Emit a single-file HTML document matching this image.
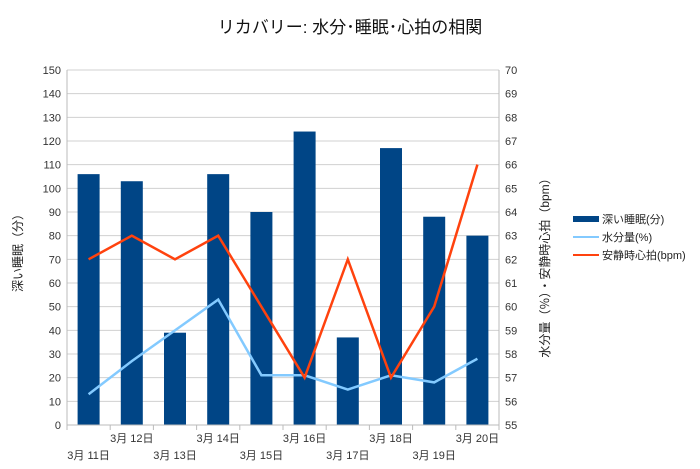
<!DOCTYPE html>
<html><head><meta charset="utf-8"><style>
body{margin:0;background:#fff;}
svg{display:block;font-family:"Liberation Sans","Noto Sans CJK JP",sans-serif;}
</style></head><body>
<svg id="chart" width="700" height="469" viewBox="0 0 700 469">
<text x="350" y="33" text-anchor="middle" font-size="17" fill="#111">リカバリー: 水分･睡眠･心拍の相関</text>
<g id="grid"></g><g id="bars"></g><g id="lines"></g><g id="axes"></g>
<text transform="translate(22,250) rotate(-90)" text-anchor="middle" font-size="12" fill="#222">深い睡眠（分）</text>
<text transform="translate(549,265) rotate(-90)" text-anchor="middle" font-size="12" fill="#222">水分量（％）・安静時心拍（bpm）</text>
<g>
<rect x="573" y="216" width="26" height="6" fill="#004586"/>
<text x="602" y="223" font-size="11" fill="#222">深い睡眠(分)</text>
<line x1="573" x2="599" y1="237" y2="237" stroke="#83caff" stroke-width="2"/>
<text x="602" y="241" font-size="11" fill="#222">水分量(%)</text>
<line x1="573" x2="599" y1="255" y2="255" stroke="#ff420e" stroke-width="2"/>
<text x="602" y="259" font-size="11" fill="#222">安静時心拍(bpm)</text>
</g>
</svg>
<script>
const categories=["3月 11日","3月 12日","3月 13日","3月 14日","3月 15日","3月 16日","3月 17日","3月 18日","3月 19日","3月 20日"];
const sleep=[106,103,39,106,90,124,37,117,88,80];
const water=[13,27,40,53,21,21,15,21,18,28];
const heart=[62,63,62,63,60,57,62,57,60,66];
const leftTicks=[0,10,20,30,40,50,60,70,80,90,100,110,120,130,140,150];
const rightTicks=[55,56,57,58,59,60,61,62,63,64,65,66,67,68,69,70];
const NS="http://www.w3.org/2000/svg";
const L=67,R=499,T=70,B=425;
const bw=(R-L)/categories.length;
const xc=i=>L+bw*(i+0.5);
const yl=v=>B-(v-0)/150*(B-T);
const yr=v=>B-(v-55)/15*(B-T);
function mk(tag,attrs,parent){const e=document.createElementNS(NS,tag);for(const k in attrs)e.setAttribute(k,attrs[k]);document.getElementById(parent).appendChild(e);return e;}
leftTicks.forEach((v,i)=>{
 const g=mk('line',{x1:L,x2:R,y1:yl(v),y2:yl(v),stroke:'#d0d0d0','stroke-width':1},'grid');
 
 
 const t=mk('text',{x:L-6,y:yl(v)+4,'text-anchor':'end','font-size':11,fill:'#333'},'axes');t.textContent=v;
 
 
});
rightTicks.forEach(v=>{
 const t=mk('text',{x:R+6,y:yr(v)+4,'font-size':11,fill:'#333'},'axes');t.textContent=v;
 
 
});
const al=mk('line',{x1:L,x2:L,y1:T,y2:B+5,stroke:'#bbb'},'axes');


const ar=mk('line',{x1:R,x2:R,y1:T,y2:B+5,stroke:'#bbb'},'axes');


const ab=mk('line',{x1:L,x2:R,y1:B,y2:B,stroke:'#bbb'},'axes');


categories.forEach((c,i)=>{
 const tk=mk('line',{x1:L+bw*(i+1),x2:L+bw*(i+1),y1:B,y2:B+5,stroke:'#bbb'},'axes');
 
 
 const t=mk('text',{x:xc(i),y:i%2?442:459,'text-anchor':'middle','font-size':11,fill:'#333'},'axes');t.textContent=c;
 
 
 const b=mk('rect',{x:xc(i)-11,y:yl(sleep[i]),width:22,height:B-yl(sleep[i]),fill:'#004586'},'bars');
 
 
});
const w=mk('polyline',{points:water.map((v,i)=>xc(i)+','+yl(v)).join(' '),fill:'none',stroke:'#83caff','stroke-width':2.5},'lines');


const h=mk('polyline',{points:heart.map((v,i)=>xc(i)+','+yr(v)).join(' '),fill:'none',stroke:'#ff420e','stroke-width':2.5},'lines');


</script>
</body></html>
